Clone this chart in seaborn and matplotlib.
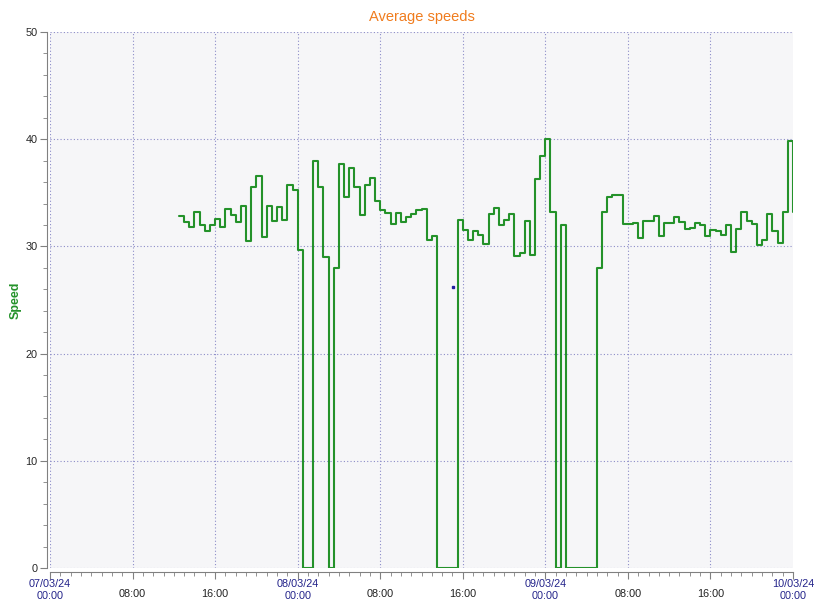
import numpy as np
import pandas as pd
import matplotlib
matplotlib.use('Agg')
import matplotlib.pyplot as plt
import matplotlib.dates as mdates
from matplotlib.ticker import MultipleLocator
import seaborn as sns

# half-hour averages, 07/03/24 12:30 -> 10/03/24 00:00
start_time = '2024-03-07 12:30'
speeds = [32.8, 32.3, 31.8, 33.2, 32.0, 31.4, 32.0, 32.6, 31.8, 33.5,
          32.9, 32.3, 33.8, 30.5, 35.5, 36.6, 30.9, 33.8, 32.4, 33.7,
          32.5, 35.7, 35.3, 29.7, 0.0, 0.0, 38.0, 35.5, 29.0, 0.0,
          28.0, 37.7, 34.6, 37.3, 35.5, 32.9, 35.7, 36.4, 34.2, 33.4,
          33.1, 32.1, 33.1, 32.3, 32.7, 33.0, 33.4, 33.5, 30.6, 31.0,
          0.0, 0.0, 0.0, 0.0, 32.5, 31.5, 30.6, 31.4, 31.1, 30.2,
          33.0, 33.6, 32.0, 32.5, 33.0, 29.1, 29.4, 32.4, 29.2, 36.3,
          38.4, 40.0, 33.2, 0.0, 32.0, 0.0, 0.0, 0.0, 0.0, 0.0,
          0.0, 28.0, 33.2, 34.6, 34.8, 34.8, 32.1, 32.1, 32.2, 30.8,
          32.4, 32.4, 32.8, 31.0, 32.2, 32.2, 32.7, 32.3, 31.6, 31.7,
          32.2, 32.0, 31.0, 31.5, 31.4, 31.1, 32.0, 29.5, 31.6, 33.2,
          32.4, 32.1, 30.1, 30.6, 33.0, 31.4, 30.3, 33.2, 39.8, 33.2]
times = pd.date_range(start_time, periods=len(speeds), freq='30min')
df = pd.DataFrame({'time': times, 'speed': speeds})

# stray point seen on the chart
dot_time = pd.Timestamp('2024-03-08 15:03')
dot_value = 26.2

tick_labels = ['07/03/24\n00:00', '08:00', '16:00', '08/03/24\n00:00', '08:00', '16:00',
               '09/03/24\n00:00', '08:00', '16:00', '10/03/24\n00:00']
tick_times = pd.date_range('2024-03-07 00:00', periods=len(tick_labels), freq='8h')

sns.set_style('white')
plt.rcParams['font.family'] = ['Liberation Sans', 'DejaVu Sans']

fig = plt.figure(figsize=(8.14, 6), dpi=100)
ax = fig.add_axes([50/814, 1-568/600, (793-50)/814, (568-32)/600])
ax.set_facecolor('#f6f6f8')

sns.lineplot(data=df, x='time', y='speed', ax=ax, color='#24922a', lw=1.5,
             drawstyle='steps-post', estimator=None)
ax.plot([dot_time], [dot_value], marker='s', ms=1.5, color='#2020a0', ls='none')

ax.set_xlim(tick_times[0], tick_times[-1])
ax.set_ylim(0, 50)
ax.yaxis.set_major_locator(MultipleLocator(10))
ax.yaxis.set_minor_locator(MultipleLocator(2))
ax.set_xticks(tick_times)
ax.set_xticklabels(tick_labels, linespacing=0.95)
ax.xaxis.set_minor_locator(mdates.HourLocator())

ax.grid(True, which='major', ls=(0, (1, 2)), color='#8c8cc8', lw=0.8)
for s in ['top', 'right']:
    ax.spines[s].set_visible(False)
ax.spines['left'].set_position(('outward', 2))
ax.spines['bottom'].set_position(('outward', 3))
ax.spines['left'].set_color('#808080')
ax.spines['bottom'].set_color('#808080')

ax.tick_params(axis='both', which='major', direction='out', length=5, width=0.8,
               color='#808080', labelsize=7.8, pad=2, left=True, bottom=True)
ax.tick_params(axis='both', which='minor', direction='out', length=3, width=0.6,
               color='#808080', left=True, bottom=True)

xticks = ax.xaxis.get_major_ticks()
for tick, lab in zip(xticks, tick_labels):
    if '/' in lab:
        tick.tick1line.set_markersize(8)
        tick.label1.set_color('#23238a')
        tick.set_pad(0)
    else:
        tick.label1.set_color('#222222')
        tick.set_pad(7)
xticks[-1].gridline.set_visible(False)

ax.set_xlabel('')
ax.set_ylabel('Speed', color='#24922a', fontsize=9, fontweight='bold', labelpad=3)
ax.set_title('Average speeds', color='#f07c1e', fontsize=10.5, pad=8)

fig.savefig('out.png', dpi=100)
